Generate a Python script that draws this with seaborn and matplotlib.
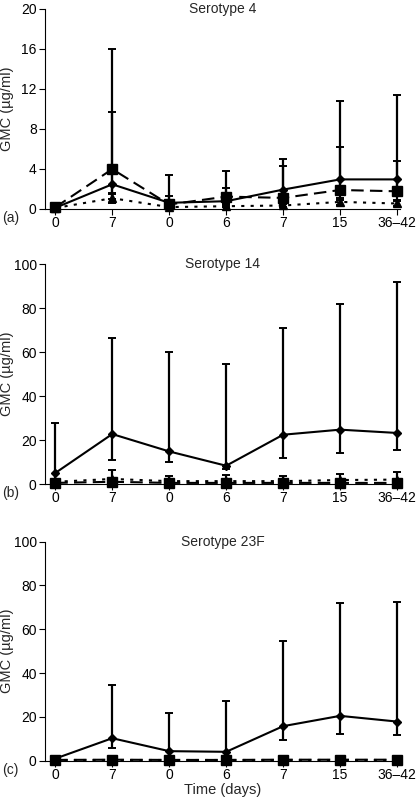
import numpy as np
import pandas as pd
import matplotlib
matplotlib.use("Agg")
from matplotlib import pyplot as plt
import seaborn as sns

# x categories (time points, days)
TICKS = ["0", "7", "0", "6", "7", "15", "36\u201342"]
POS = list(range(len(TICKS)))

# Serotype 4
s4_solid = [0.1, 2.45, 0.6, 0.76, 1.92, 2.94, 2.94]
s4_solid_lo = [0.05, 1.5, 0.3, 0.4, 1.0, 1.5, 1.6]
s4_solid_hi = [0.2, 9.65, 1.26, 2.1, 5.0, 10.8, 11.4]
s4_dash = [0.15, 3.97, 0.43, 1.22, 1.09, 1.88, 1.75]
s4_dash_lo = [0.08, 1.0, 0.2, 0.5, 0.5, 0.9, 0.8]
s4_dash_hi = [0.3, 16.0, 3.4, 3.8, 4.3, 6.2, 4.8]
s4_dot = [0.08, 1.06, 0.17, 0.26, 0.33, 0.69, 0.53]
s4_dot_lo = [0.04, 0.6, 0.1, 0.15, 0.2, 0.33, 0.3]
s4_dot_hi = [0.15, 1.6, 0.3, 0.45, 0.6, 1.1, 0.9]

# Serotype 14
s14_solid = [5.0, 22.7, 14.8, 8.3, 22.4, 24.7, 23.2]
s14_solid_lo = [0.3, 10.7, 9.9, 7.0, 12.0, 14.3, 15.5]
s14_solid_hi = [27.9, 66.4, 60.1, 54.7, 70.9, 81.9, 91.6]
s14_dash = [0.5, 1.0, 0.5, 0.5, 0.5, 0.5, 0.5]
s14_dash_lo = [0.3, 0.5, 0.3, 0.3, 0.3, 0.3, 0.3]
s14_dash_hi = [0.8, 1.5, 0.8, 0.8, 0.8, 0.8, 0.8]
s14_dot = [1.0, 2.3, 1.3, 1.3, 1.3, 1.8, 2.0]
s14_dot_lo = [0.5, 1.0, 0.6, 0.6, 0.6, 0.8, 0.9]
s14_dot_hi = [2.0, 6.3, 3.5, 3.9, 3.6, 4.4, 5.3]

# Serotype 23F
s23_solid = [1.0, 10.3, 4.4, 4.1, 15.8, 20.5, 17.9]
s23_solid_lo = [0.5, 5.9, 0.5, 0.5, 9.6, 12.0, 11.9]
s23_solid_hi = [1.5, 34.6, 21.8, 27.1, 54.5, 71.8, 72.4]
s23_dash = [0.4, 0.5, 0.4, 0.4, 0.5, 0.5, 0.5]
s23_dash_lo = [0.2, 0.3, 0.2, 0.2, 0.3, 0.3, 0.3]
s23_dash_hi = [0.6, 0.8, 0.6, 0.6, 0.8, 0.8, 0.8]
s23_dot = [0.3, 0.3, 0.3, 0.3, 0.3, 0.3, 0.3]
s23_dot_lo = [0.2, 0.2, 0.2, 0.2, 0.2, 0.2, 0.2]
s23_dot_hi = [0.4, 0.4, 0.4, 0.4, 0.4, 0.4, 0.4]

PANELS = [
    ("Serotype 4", "(a)", 20, 4,
     [(s4_solid, s4_solid_lo, s4_solid_hi),
      (s4_dash, s4_dash_lo, s4_dash_hi),
      (s4_dot, s4_dot_lo, s4_dot_hi)]),
    ("Serotype 14", "(b)", 100, 20,
     [(s14_solid, s14_solid_lo, s14_solid_hi),
      (s14_dash, s14_dash_lo, s14_dash_hi),
      (s14_dot, s14_dot_lo, s14_dot_hi)]),
    ("Serotype 23F", "(c)", 100, 20,
     [(s23_solid, s23_solid_lo, s23_solid_hi),
      (s23_dash, s23_dash_lo, s23_dash_hi),
      (s23_dot, s23_dot_lo, s23_dot_hi)]),
]
GROUPS = ["solid", "dash", "dot"]

sns.set_theme(style="ticks")
plt.rcParams['font.family'] = ['Liberation Sans', 'DejaVu Sans']
plt.rcParams['font.size'] = 9.5

W, H = 418, 800
fig = plt.figure(figsize=(W / 100, H / 100), dpi=100)
# axes boxes in figure fraction (left, bottom, width, height)
boxes = [(0.1077, 0.739, 0.849, 0.250),
         (0.1077, 0.395, 0.849, 0.275),
         (0.1077, 0.049, 0.849, 0.274)]

markers = {"solid": "D", "dash": "s", "dot": "^"}
dashes = {"solid": "", "dash": (6, 3), "dot": (1.5, 3)}
msize = {"solid": 4, "dash": 6.5, "dot": 6}

for i, (title, tag, ymax, ystep, series) in enumerate(PANELS):
    ax = fig.add_axes(boxes[i])
    rows = []
    for g, (m, lo, hi) in zip(GROUPS, series):
        for p, v, l, h in zip(POS, m, lo, hi):
            rows.append({"pos": p, "gmc": v, "lo": l, "hi": h, "group": g})
    df = pd.DataFrame(rows)

    # error bars first so the lines sit on top
    for g in GROUPS:
        d = df[df.group == g]
        ax.errorbar(d.pos, d.gmc, yerr=[d.gmc - d.lo, d.hi - d.gmc], fmt="none",
                    ecolor="black", elinewidth=1.6, capsize=2.8, capthick=1.4,
                    clip_on=False, zorder=2)

    for g in GROUPS:
        d = df[df.group == g]
        sns.lineplot(data=d, x="pos", y="gmc", ax=ax, color="black",
                     linewidth=1.5, legend=False, zorder=3)
        ln = ax.lines[-1]
        if dashes[g]:
            ln.set_dashes(dashes[g])
        ax.plot(d.pos, d.gmc, linestyle="none", marker=markers[g],
                markersize=msize[g], color="black", clip_on=False, zorder=4)
    for ln in ax.lines:
        ln.set_clip_on(False)

    ax.set_xlim(-0.18, 6.05)
    ax.set_ylim(0, ymax)
    ax.set_xticks(POS)
    ax.set_xticklabels(TICKS)
    ax.set_yticks(np.arange(0, ymax + 1, ystep))
    ax.tick_params(axis="both", direction="out", length=4, width=0.8,
                   labelsize=10, colors="black", pad=2)
    ax.tick_params(axis="x", pad=1)
    sns.despine(ax=ax)
    for s in ["left", "bottom"]:
        ax.spines[s].set_linewidth(0.8)
        ax.spines[s].set_color("black")
    ax.set_ylabel("GMC (\u00b5g/ml)", fontsize=10.5)
    ax.yaxis.set_label_coords(-0.087, 0.5)
    ax.set_xlabel("Time (days)" if i == 2 else "", fontsize=10.5, labelpad=1)
    ax.text(0.5, 1.0, title, transform=ax.transAxes, ha="center", va="center",
            fontsize=10)
    # panel tag sits on the tick-label line at the far left
    ybot = boxes[i][1]
    fig.text(2 / W, ybot - 9 / H, tag, ha="left", va="center", fontsize=10)

fig.savefig("out.png", dpi=100, facecolor="white")
